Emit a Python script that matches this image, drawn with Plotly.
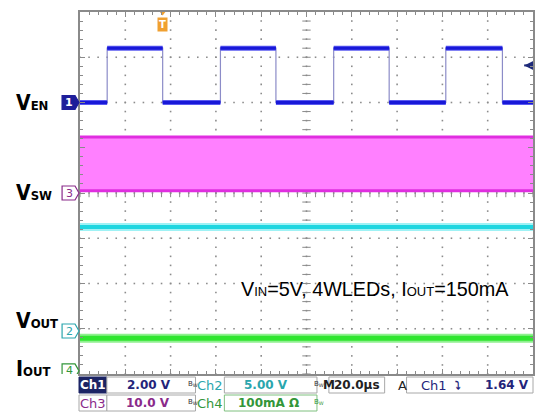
import numpy as np
import plotly.graph_objects as go

time_range_us = [0.0, 200.0]          # 20 us/div, 10 div
en_edges_us = [12.0, 36.5, 62.0, 86.5, 112.0, 136.5, 161.5, 186.5]  # VEN transitions (first = rising)
en_low_v = 0.0
en_high_v = 2.4
vsw_min_v = 0.5
vsw_max_v = 12.4
vout_v = 11.5
iout_ma = 72.0
trigger_time_us = 36.5
trigger_level_v = 1.64

channel_names = ["Ch1", "Ch2", "Ch3", "Ch4"]
channel_scales = [2.0, 5.0, 10.0, 100.0]        # per division
channel_scale_text = ["2.00 V", "5.00 V", "10.0 V", "100mA \u03a9"]
channel_labels = ["V<span style='font-size:13px'>EN</span>",
                  "V<span style='font-size:13px'>OUT</span>",
                  "V<span style='font-size:13px'>SW</span>",
                  "I<span style='font-size:13px'>OUT</span>"]
timebase_text = "20.0\u00b5s"
trigger_text = "1.64 V"
note_text = ("V<span style='font-size:13px'>IN</span>=5V, 4WLEDs, "
             "I<span style='font-size:13px'>OUT</span>=150mA")

# ---------------- style / layout ----------------
W, H = 536, 414
ML, MR, MT, MB = 80, 1, 12, 40
PW, PH = W - ML - MR, H - MT - MB
ch_pos = {"Ch1": 2.0, "Ch2": -3.05, "Ch3": 0.0, "Ch4": -3.93}   # ground marker (div)
ch_color = {"Ch1": "#1e1e9a", "Ch2": "#2aa6ad", "Ch3": "#8a2a8a", "Ch4": "#33963a"}
X_DIV, Y_DIV = 20.0, 1.0


def px(xp):
    return (xp - ML) / PW


def py(yp):
    return (H - MB - yp) / PH


def to_div(ch, val):
    i = channel_names.index(ch)
    return ch_pos[ch] + val / channel_scales[i]


fig = go.Figure()
t0, t1 = time_range_us

# ---- dotted graticule (1/5 division dots along each division line)
gx, gy = [], []
for xv in np.arange(t0 + X_DIV, t1, X_DIV):
    for yv in np.arange(-4, 4.001, Y_DIV / 5):
        gx.append(xv)
        gy.append(yv)
for yv in np.arange(-4 + Y_DIV, 4, Y_DIV):
    for xv in np.arange(t0, t1 + 0.001, X_DIV / 5):
        gx.append(xv)
        gy.append(yv)
fig.add_trace(go.Scatter(x=gx, y=gy, mode="markers",
                         marker=dict(symbol="square", size=1.6, color="#8c8c8c", line=dict(width=0)),
                         hoverinfo="skip"))
cx = np.arange(t0, t1 + 0.01, X_DIV / 5)
fig.add_trace(go.Scatter(x=cx, y=[0] * len(cx), mode="markers",
                         marker=dict(symbol="line-ns", size=6, line=dict(color="#8a8a8a", width=1)),
                         hoverinfo="skip"))
cy = np.arange(-4, 4.01, Y_DIV / 5)
fig.add_trace(go.Scatter(x=[(t0 + t1) / 2] * len(cy), y=cy, mode="markers",
                         marker=dict(symbol="line-ew", size=6, line=dict(color="#8a8a8a", width=1)),
                         hoverinfo="skip"))

# ---- VEN (Ch1) square wave
xs, ys = [t0], [en_low_v]
level = en_low_v
for k, e in enumerate(en_edges_us):
    new = en_high_v if k % 2 == 0 else en_low_v
    xs += [e, e]
    ys += [level, new]
    level = new
xs.append(t1)
ys.append(level)
ydiv = [to_div("Ch1", v) for v in ys]
fig.add_trace(go.Scatter(x=xs, y=ydiv, mode="lines",
                         line=dict(color="#8c8cc8", width=1.2), hoverinfo="skip"))
hx, hy = [], []
bounds = [t0] + en_edges_us + [t1]
for k in range(len(bounds) - 1):
    v = en_low_v if k % 2 == 0 else en_high_v
    hx += [bounds[k], bounds[k + 1], None]
    hy += [to_div("Ch1", v), to_div("Ch1", v), None]
fig.add_trace(go.Scatter(x=hx, y=hy, mode="lines",
                         line=dict(color="#5a5af0", width=5), hoverinfo="skip"))
fig.add_trace(go.Scatter(x=hx, y=hy, mode="lines",
                         line=dict(color="#1818d8", width=3), hoverinfo="skip"))

# ---- VSW (Ch3) switching band
fig.add_trace(go.Scatter(x=time_range_us, y=[to_div("Ch3", vsw_min_v)] * 2, mode="lines",
                         line=dict(color="#e02ee0", width=3), hoverinfo="skip"))
fig.add_trace(go.Scatter(x=time_range_us, y=[to_div("Ch3", vsw_max_v)] * 2, mode="lines",
                         line=dict(color="#e02ee0", width=3), fill="tonexty",
                         fillcolor="#ff80ff", hoverinfo="skip"))

# ---- VOUT (Ch2)
for w, c in [(8, "#9ff2f5"), (4, "#1fd6e0")]:
    fig.add_trace(go.Scatter(x=time_range_us, y=[to_div("Ch2", vout_v)] * 2, mode="lines",
                             line=dict(color=c, width=w), hoverinfo="skip"))
# ---- IOUT (Ch4)
for w, c in [(9, "#8ff08f"), (5, "#2fe62f")]:
    fig.add_trace(go.Scatter(x=time_range_us, y=[to_div("Ch4", iout_ma)] * 2, mode="lines",
                             line=dict(color=c, width=w), hoverinfo="skip"))

# ---- trigger level arrow (right edge)
fig.add_trace(go.Scatter(x=[t1 - 3.9], y=[to_div("Ch1", trigger_level_v)], mode="markers",
                         marker=dict(symbol="arrow-left", size=10, color="#1e2a7a",
                                     line=dict(width=0)),
                         cliponaxis=False, hoverinfo="skip"))
fig.add_trace(go.Scatter(x=[t1 - 3.9, t1], y=[to_div("Ch1", trigger_level_v)] * 2, mode="lines",
                         line=dict(color="#1e2a7a", width=2), hoverinfo="skip"))

# ---- trigger position marker (top)
fig.add_trace(go.Scatter(x=[trigger_time_us], y=[4.0], mode="markers",
                         marker=dict(symbol="triangle-down", size=7, color="#f0a030",
                                     line=dict(width=0)),
                         cliponaxis=False, hoverinfo="skip"))

shapes = []
ann = []

# ---- channel ground markers and labels
label_shift = {"Ch1": 0, "Ch2": 10, "Ch3": 0, "Ch4": 2}
order = ["Ch1", "Ch2", "Ch3", "Ch4"]
for ch, lab in zip(order, channel_labels):
    yv = ch_pos[ch]
    filled = ch == "Ch1"
    col = ch_color[ch]
    d = 7 / 45.25
    shapes.append(dict(type="path", xref="paper", yref="y",
                       path=f"M {px(62)},{yv + d} L {px(75)},{yv + d} L {px(79)},{yv} "
                            f"L {px(75)},{yv - d} L {px(62)},{yv - d} Z",
                       fillcolor=col if filled else "white",
                       line=dict(color=col, width=1.2)))
    ann.append(dict(xref="paper", yref="y", x=px(69), y=yv, text=f"<b>{ch[-1]}</b>" if filled else ch[-1],
                    showarrow=False, font=dict(family="DejaVu Sans", size=11,
                                               color="white" if filled else col),
                    xanchor="center", yanchor="middle"))
    ann.append(dict(xref="paper", yref="y", x=px(14), y=yv, yshift=label_shift[ch],
                    text=f"<b>{lab}</b>", showarrow=False, xanchor="left", yanchor="middle",
                    font=dict(family="DejaVu Sans Condensed, Liberation Sans",
                              size=21, color="black")))

ann.append(dict(xref="x", yref="paper", x=trigger_time_us, y=1.0, yshift=-5, yanchor="top",
                text="<b>T</b>", showarrow=False, bgcolor="#f0a030", borderpad=1,
                font=dict(family="DejaVu Sans", size=10, color="white")))

# ---- note
ann.append(dict(xref="paper", yref="paper", x=px(240), y=py(289), text=note_text,
                showarrow=False, xanchor="left", yanchor="middle",
                font=dict(family="Liberation Sans", size=19.8, color="black")))


# ---- status bar
def box(x0, x1, y0, y1, fill="white", line="#a8a8a8"):
    shapes.append(dict(type="rect", xref="paper", yref="paper", x0=px(x0), x1=px(x1),
                       y0=py(y1), y1=py(y0), fillcolor=fill, line=dict(color=line, width=1)))


def txt(x, y, s, col, anchor="left", size=12, bold=True):
    ann.append(dict(xref="paper", yref="paper", x=px(x), y=py(y), text=f"<b>{s}</b>" if bold else s,
                    showarrow=False, xanchor=anchor, yanchor="middle",
                    font=dict(family="DejaVu Sans", size=size, color=col)))


row_y = [385, 403]
row_t = [377, 395]
box(79, 107, row_t[0], row_t[0] + 16, fill="#1c2464", line="#1c2464")
box(79, 107, row_t[1], row_t[1] + 16)
box(107, 196, row_t[0], row_t[0] + 16)
box(107, 196, row_t[1], row_t[1] + 16)
box(225, 318, row_t[0], row_t[0] + 16)
box(225, 318, row_t[1], row_t[1] + 16, line="#7fc07f")
box(330, 386, row_t[0], row_t[0] + 16)
box(408, 535, row_t[0], row_t[0] + 16)

txt(93, row_y[0], channel_names[0], "white", anchor="center", size=12)
txt(125, row_y[0], channel_scale_text[0], "#24247a")
txt(211, row_y[0], channel_names[1], "#2aa6ad", anchor="center", bold=False, size=13)
txt(243, row_y[0], channel_scale_text[1], "#2aa6ad")
txt(93, row_y[1], channel_names[2], "#8a2a8a", anchor="center", bold=False, size=13)
txt(124, row_y[1], channel_scale_text[2], "#8a2a8a")
txt(211, row_y[1], channel_names[3], "#33963a", anchor="center", bold=False, size=13)
txt(237, row_y[1], channel_scale_text[3], "#33963a")
for yy in row_y:
    txt(186, yy - 1, "B<sub>W</sub>", "#333333", size=7, bold=False)
txt(313, row_y[0] - 1, "B<sub>W</sub>", "#333333", size=7, bold=False)
txt(313, row_y[1] - 1, "B<sub>W</sub>", "#33963a", size=7, bold=False)
txt(322, row_y[0], "M", "#222222", size=12)
txt(333, row_y[0], timebase_text, "#222222", size=12)
txt(397, row_y[0], "A", "#222222", bold=False, size=13)
txt(420, row_y[0], channel_names[0], "#24247a", bold=False, size=13)
txt(455, row_y[0], "\u2935", "#24247a", size=11)
txt(533, row_y[0], trigger_text, "#24247a", anchor="right")

axis_common = dict(showticklabels=False, showline=True, linecolor="#8a8a8a", linewidth=2,
                   mirror="allticks", ticks="inside", ticklen=5, tickcolor="#8a8a8a",
                   zeroline=False, showgrid=False, fixedrange=True)
fig.update_layout(
    width=W, height=H, margin=dict(l=ML, r=MR, t=MT, b=MB),
    paper_bgcolor="white", plot_bgcolor="white", showlegend=False,
    xaxis=dict(range=time_range_us, dtick=X_DIV,
               minor=dict(dtick=X_DIV / 5, ticks="inside", ticklen=3, tickcolor="#8a8a8a", showgrid=False),
               **axis_common),
    yaxis=dict(range=[-4, 4], dtick=Y_DIV,
               minor=dict(dtick=Y_DIV / 5, ticks="inside", ticklen=3, tickcolor="#8a8a8a", showgrid=False),
               **axis_common),
    shapes=shapes, annotations=ann,
)
fig.write_html("out.html", config={"displayModeBar": False},
               post_script="document.body.style.margin='0px';")
